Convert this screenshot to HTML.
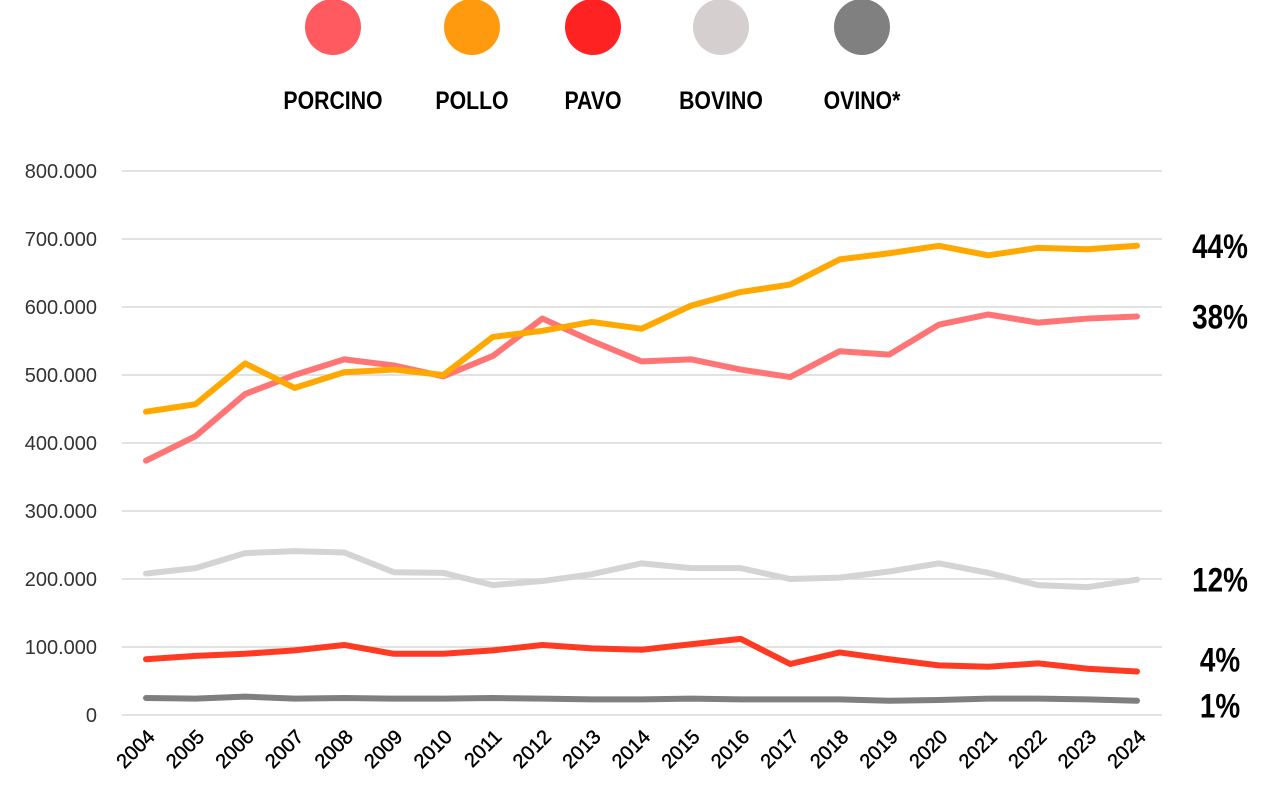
<!DOCTYPE html>
<html><head><meta charset="utf-8"><style>
body{margin:0;background:#fff;font-family:"Liberation Sans",sans-serif}
</style></head><body>
<svg width="1284" height="807" xmlns="http://www.w3.org/2000/svg">
<g id="grid"></g>
<g id="ylab"></g>
<g id="xlab"></g>
<g id="lines"></g>
<g id="legend"></g>
<g id="share"></g>
</svg>
<script>
const years=[2004,2005,2006,2007,2008,2009,2010,2011,2012,2013,2014,2015,2016,2017,2018,2019,2020,2021,2022,2023,2024];
const yTicks=[0,100000,200000,300000,400000,500000,600000,700000,800000];
const yTickLabels=["0","100.000","200.000","300.000","400.000","500.000","600.000","700.000","800.000"];
const seriesNames=["PORCINO","POLLO","PAVO","BOVINO","OVINO*"];
const porcino=[374,410,472,500,523,514,498,528,583,550,520,523,508,497,535,530,574,589,577,583,586];
const pollo=[446,457,517,481,504,508,500,556,565,578,568,602,622,633,670,679,690,676,687,685,690];
const pavo=[82,87,90,95,103,90,90,95,103,98,96,104,112,75,92,82,73,71,76,68,64];
const bovino=[208,216,238,241,239,210,209,191,197,207,223,216,216,200,202,211,223,209,191,188,199];
const ovino=[25,24,27,24,25,24,24,25,24,23,23,24,23,23,23,21,22,24,24,23,21];
const shares=["38%","44%","4%","12%","1%"];
const shareOffsets=[0,0,-12,0,5];
const lineColors=["#ff7575","#ffa800","#ff3a22","#d4d4d4","#7f7f7f"];
const legendColors=["#ff5a5f","#ff9a0e","#ff2222","#d5cfcf","#808080"];
const NS="http://www.w3.org/2000/svg";
const X=i=>146+i*(1137-146)/(years.length-1);
const Y=v=>715-v*(715-171)/800000;
function mk(t,a,p){const e=document.createElementNS(NS,t);for(const k in a)e.setAttribute(k,a[k]);p.appendChild(e);return e;}
const grid=document.getElementById('grid'),ylab=document.getElementById('ylab'),xlab=document.getElementById('xlab');
yTicks.forEach((v,i)=>{
 const l=mk('line',{x1:122,x2:1162,y1:Y(v),y2:Y(v),stroke:'#d9d9d9','stroke-width':1.5},grid);
 
 
 const t=mk('text',{x:97,y:Y(v)+7,'text-anchor':'end','font-size':20,fill:'#333'},ylab);
 t.textContent=yTickLabels[i];
 
 
});
years.forEach((y,i)=>{
 const t=mk('text',{transform:`translate(${X(i)+10},${738}) rotate(-45)`,'text-anchor':'end','font-size':20,fill:'#000',stroke:'#000','stroke-width':0.4},xlab);
 t.textContent=y;
 
 
});
const data=[porcino,pollo,pavo,bovino,ovino];
const order=[3,4,2,0,1];
order.forEach(s=>{
 const d=data[s].map((v,i)=>(i?'L':'M')+X(i)+','+Y(v*1000)).join(' ');
 const p=mk('path',{d,fill:'none',stroke:lineColors[s],'stroke-width':6,'stroke-linejoin':'round','stroke-linecap':'round'},document.getElementById('lines'));
 
 
});
const lx=[333,472,593,721,862];
seriesNames.forEach((n,i)=>{
 const c=mk('circle',{cx:lx[i],cy:27,r:28,fill:legendColors[i]},document.getElementById('legend'));
 
 
 const t=mk('text',{x:lx[i],y:109,'text-anchor':'middle','font-size':25,'font-weight':'bold',fill:'#000',transform:`translate(${lx[i]},0) scale(0.85,1) translate(${-lx[i]},0)`},document.getElementById('legend'));
 t.textContent=n;
 
 
 const last=data[i][data[i].length-1]*1000;
 const yy=Y(last)+12+shareOffsets[i];
 const s=mk('text',{x:1220,y:yy,'text-anchor':'middle','font-size':34,'font-weight':'bold',fill:'#000',transform:`translate(1220,0) scale(0.82,1) translate(-1220,0)`},document.getElementById('share'));
 s.textContent=shares[i];
 
 
});
</script>
</body></html>
